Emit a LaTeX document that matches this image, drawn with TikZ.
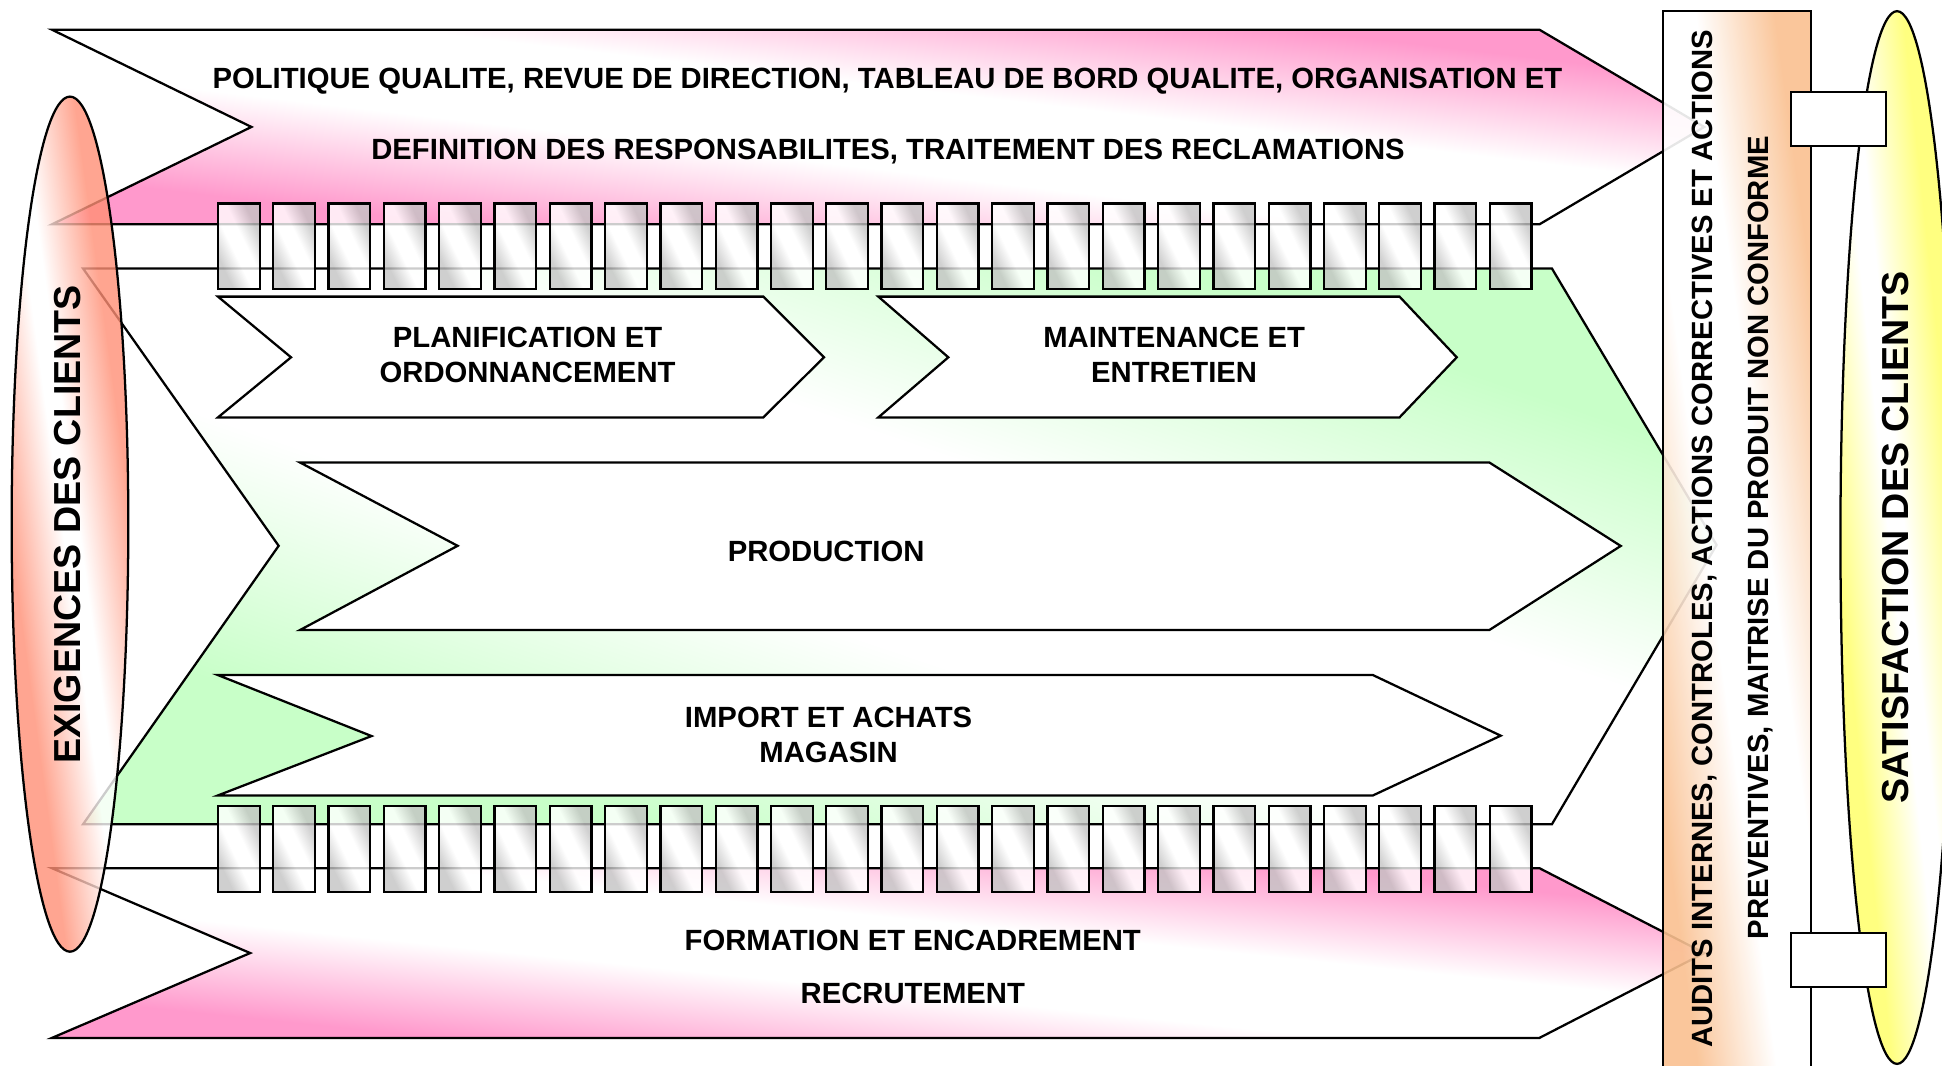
\documentclass[tikz,border=0pt]{standalone}
\usepackage{fontspec}
\setmainfont{Liberation Sans}
\definecolor{pinkc}{HTML}{FF99CC}
\definecolor{greenc}{HTML}{C8FFC8}
\definecolor{salmonc}{HTML}{FF8F75}
\definecolor{peachc}{HTML}{FAC090}
\definecolor{yellowc}{HTML}{FFFF80}
\definecolor{grayc}{HTML}{C4C4C4}
\newcommand{\mkdiag}[2]{\pgfdeclarehorizontalshading{#1}{100bp}{color(0bp)=(#2); color(29bp)=(#2); color(44bp)=(white); color(56bp)=(white); color(71bp)=(#2); color(100bp)=(#2)}}
\newcommand{\mkdiagwide}[2]{\pgfdeclarehorizontalshading{#1}{100bp}{color(0bp)=(#2); color(35bp)=(#2); color(48bp)=(white); color(52bp)=(white); color(65bp)=(#2); color(100bp)=(#2)}}
\mkdiag{diagpink}{pinkc}
\mkdiag{diaggreen}{greenc}
\mkdiagwide{diagsalmon}{salmonc}
\mkdiag{diagpeach}{peachc}
\mkdiagwide{diagyellow}{yellowc}
\mkdiag{diaggray}{grayc}
\tikzset{
  edge/.style={draw=black, line width=0.65pt, line join=miter},
  diagfill/.style 2 args={shade, shading=#1, shading angle=#2},
  procbox/.style={edge, fill=white},
  linkbox/.style={edge, diagfill={diaggray}{25.9}, fill opacity=0.8},
  txt/.style={font=\fontsize{8.4pt}{10pt}\selectfont\bfseries, inner sep=0pt, anchor=base},
  bigtxt/.style={font=\fontsize{10.8pt}{13pt}\selectfont\bfseries, inner sep=0pt, anchor=base, rotate=90}
}
\begin{document}
\begin{tikzpicture}[x=0.0125cm, y=-0.0125cm]
\useasboundingbox (0,0) rectangle (1568,860);
\clip (0,0) rectangle (1568,860);
% top pink chevron
\path[edge, diagfill={diagpink}{83.3}] (42,24) -- (1243,24) -- (1376,102.5) -- (1243,181.1) -- (42,181.1) -- (203,102.5) -- cycle;
% bottom pink chevron
\path[edge, diagfill={diagpink}{84.1}] (42,701) -- (1243,701) -- (1376,769.5) -- (1243,838) -- (42,838) -- (202,769.5) -- cycle;
% green chevron
\path[edge, diagfill={diaggreen}{71.2}] (67,216.7) -- (1253,216.7) -- (1386,440) -- (1253,665.6) -- (67,665.6) -- (225,440.7) -- cycle;
% process chevrons
\path[procbox] (176,239.5) -- (616.3,239.5) -- (665.3,288.5) -- (616.3,337) -- (176,337) -- (235,288.5) -- cycle;
\path[procbox] (709.2,239.5) -- (1130,239.5) -- (1176.2,288.5) -- (1130,337) -- (709.2,337) -- (765.7,288.5) -- cycle;
\path[procbox] (242.2,373.4) -- (1202.5,373.4) -- (1308.6,440.8) -- (1202.5,508.7) -- (242.2,508.7) -- (369.5,440.7) -- cycle;
\path[procbox] (175.8,545) -- (1108.4,545) -- (1211.7,594) -- (1108.4,642.3) -- (175.8,642.3) -- (300,594.3) -- cycle;
% link boxes
\foreach \i in {0,...,23}{
  \path[linkbox] ({176+\i*44.65},164.2) rectangle ++(33.7,69.4);
  \path[linkbox] ({176+\i*44.65},650.8) rectangle ++(33.7,69.2);
}
% left ellipse
\path[edge, diagfill={diagsalmon}{7.8}, fill opacity=0.8] (56.5,423.2) ellipse [x radius=47.1, y radius=345.2];
% audit box
\path[edge, diagfill={diagpeach}{7.8}, fill opacity=0.9] (1343,8.6) rectangle (1462.5,880);
% right ellipse
\path[edge, diagfill={diagyellow}{6.1}] (1531.7,434) ellipse [x radius=45.7, y radius=425];
% small white rectangles
\path[edge, fill=white] (1445.8,74.5) rectangle (1522.6,117.9);
\path[edge, fill=white] (1445.8,753.6) rectangle (1522.6,797.2);
% texts
\node[txt] (t1) at (716.5,71.3) {POLITIQUE QUALITE, REVUE DE DIRECTION, TABLEAU DE BORD QUALITE, ORGANISATION ET};
\node[txt] (t2) at (717,128.6) {DEFINITION DES RESPONSABILITES, TRAITEMENT DES RECLAMATIONS};
\node[txt] (p1a) at (426,280.5) {PLANIFICATION ET};
\node[txt] (p1b) at (426,308.5) {ORDONNANCEMENT};
\node[txt] (p2a) at (948,280.5) {MAINTENANCE ET};
\node[txt] (p2b) at (948,308.5) {ENTRETIEN};
\node[txt] (prod) at (667,453) {PRODUCTION};
\node[txt] (imp1) at (669,587.5) {IMPORT ET ACHATS};
\node[txt] (imp2) at (669,615.8) {MAGASIN};
\node[txt] (form) at (737,767.5) {FORMATION ET ENCADREMENT};
\node[txt] (recr) at (737,810.5) {RECRUTEMENT};
\node[bigtxt] (exig) at (64.6,423.5) {EXIGENCES DES CLIENTS};
\node[bigtxt] (satis) at (1540.6,434) {SATISFACTION DES CLIENTS};
\node[txt, rotate=90] (aud1) at (1383,435) {AUDITS INTERNES, CONTROLES, ACTIONS CORRECTIVES ET ACTIONS};
\node[txt, rotate=90] (aud2) at (1427.7,434) {PREVENTIVES, MAITRISE DU PRODUIT NON CONFORME};
\end{tikzpicture}
\end{document}
